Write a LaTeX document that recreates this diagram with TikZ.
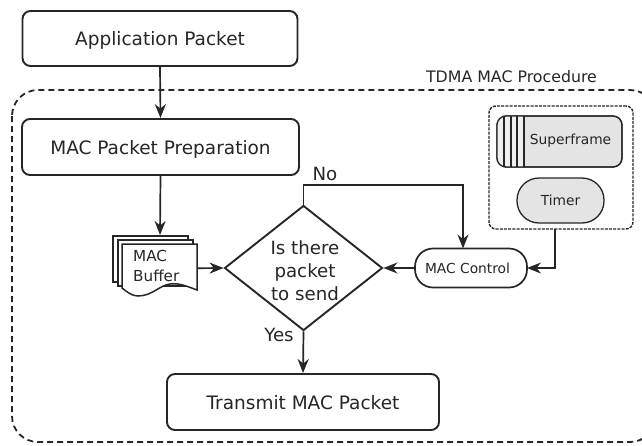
\documentclass[tikz,border=0pt]{standalone}
\usepackage{fontspec}
\setmainfont{DejaVu Sans}
\usetikzlibrary{arrows.meta,shapes.geometric}
\definecolor{ink}{HTML}{262626}
\definecolor{fillg}{HTML}{E4E4E4}
\definecolor{filll}{HTML}{EFEFEF}
\tikzset{
  x=1pt,y=-1pt,
  box/.style={draw=ink,line width=1.9pt,rounded corners=8pt,fill=white,align=center,font=\fontsize{18.5}{22}\selectfont,text=ink,inner sep=0pt,text height=14pt,text depth=0pt},
  flow/.style={draw=ink,line width=1.7pt,-{Stealth[length=14pt,width=11pt,inset=4.5pt]}},
  lab/.style={font=\fontsize{15.8}{18}\selectfont,text=ink,inner sep=0pt},
  biglab/.style={font=\fontsize{18.2}{22}\selectfont,text=ink,inner sep=0pt},
  decision/.style={diamond,aspect=1.27,draw=ink,line width=1.9pt,fill=white,inner sep=0pt,minimum width=158,minimum height=125},
  sheet/.style={draw=ink,line width=1.5pt,fill=white},
  graybox/.style={draw=ink,line width=1.3pt,fill=fillg,inner sep=0pt,text=ink},
}
\begin{document}
\begin{tikzpicture}
\useasboundingbox (0,0) rectangle (642,445);
\begin{scope}
\clip (0,0) rectangle (642,445);
\draw[ink,line width=1.8pt,dash pattern=on 6pt off 4pt,rounded corners=26pt] (12,90) rectangle (656,442);
\end{scope}
\node[lab,anchor=base] (title) at (511.5,82) {TDMA MAC Procedure};
\node[box,minimum width=275,minimum height=55] (app) at (160,38.5) {Application Packet};
\node[box,minimum width=277,minimum height=56] (prep) at (160.5,147) {MAC Packet Preparation};
\node[box,minimum width=272,minimum height=56] (tx) at (303,402) {Transmit MAC Packet};
\node[decision] (dec) at (303.5,268) {};
\node[align=center,inner sep=0pt,text=ink,font=\fontsize{18.2}{23}\selectfont] (dect) at (305,270.5) {Is there\\packet\\to send};
% buffer sheets
\foreach \dx/\dy in {0/0,5/4}{
  \draw[sheet] (113+\dx,236+\dy) -- (188+\dx,236+\dy) -- (188+\dx,282+\dy)
    -- (113+\dx,282+\dy) -- cycle;
}
\draw[sheet] (122,244) -- (197,244) -- (197,290)
    .. controls (184,285) and (178,283) .. (170,284)
    .. controls (160,285) and (152,296) .. (138,296)
    .. controls (132,296) and (127,292) .. (122,288) -- cycle;
\node[anchor=north west,minimum width=75,minimum height=48,inner sep=0pt] (buf) at (122,244) {};
\node[anchor=west,align=left,inner sep=0pt,text=ink,font=\fontsize{15.2}{20}\selectfont] (buft) at (133,266) {MAC\\Buffer};
\coordinate (bufT) at (160,235);
% MAC control
\node[draw=ink,line width=1.7pt,fill=white,rounded corners=18pt,minimum width=112,minimum height=39,inner sep=0pt] (ctl) at (471,268) {};
\node[inner sep=0pt,font=\fontsize{13.8}{16}\selectfont,text=ink] (ctlt) at (467.5,268) {MAC Control};
% inner dashed box
\node[draw=ink,line width=1.4pt,dash pattern=on 3pt off 1.2pt,rounded corners=7pt,minimum width=144,minimum height=123,inner sep=0pt] (grp) at (561,167.5) {};
% superframe
\node[graybox,rounded corners=9pt,minimum width=125,minimum height=51] (sf) at (559.5,141.5) {};
\begin{scope}
\clip[rounded corners=9pt] (sf.north west) rectangle (sf.south east);
\fill[filll] (497,116) rectangle (524,167);
\foreach \sx in {504,511,517,524}{
  \draw[ink,line width=1.3pt] (\sx,116) -- (\sx,167);
}
\end{scope}
\node[draw=ink,line width=1.3pt,rounded corners=9pt,minimum width=125,minimum height=51,inner sep=0pt] (sfo) at (559.5,141.5) {};
\node[inner sep=0pt,text=ink,font=\fontsize{13.8}{16}\selectfont] (sft) at (570.5,141) {Superframe};
\node[graybox,rounded corners=22pt,minimum width=87,minimum height=45,font=\fontsize{13.8}{16}\selectfont] (timer) at (560.5,200.5) {Timer};
% connectors
\coordinate (dUp) at (303.5,185);
\coordinate (ctlIn) at (463,248.5);
\coordinate (grpOut) at (555,229);
\coordinate (ctlR) at (527,268);
\draw[flow] (app.south) -- (prep.north);
\draw[flow] (prep.south) -- (bufT);
\draw[flow] (buf.east) -- (dec.west);
\draw[flow] (ctl.west) -- (dec.east);
\draw[flow] (dec.south) -- (tx.north);
\draw[flow] (dec.north) -- (dUp) -| (ctlIn);
\draw[flow] (grpOut) |- (ctlR);
\node[biglab] (no) at (325,174) {No};
\node[biglab] (yes) at (279,335) {Yes};
\end{tikzpicture}
\end{document}
